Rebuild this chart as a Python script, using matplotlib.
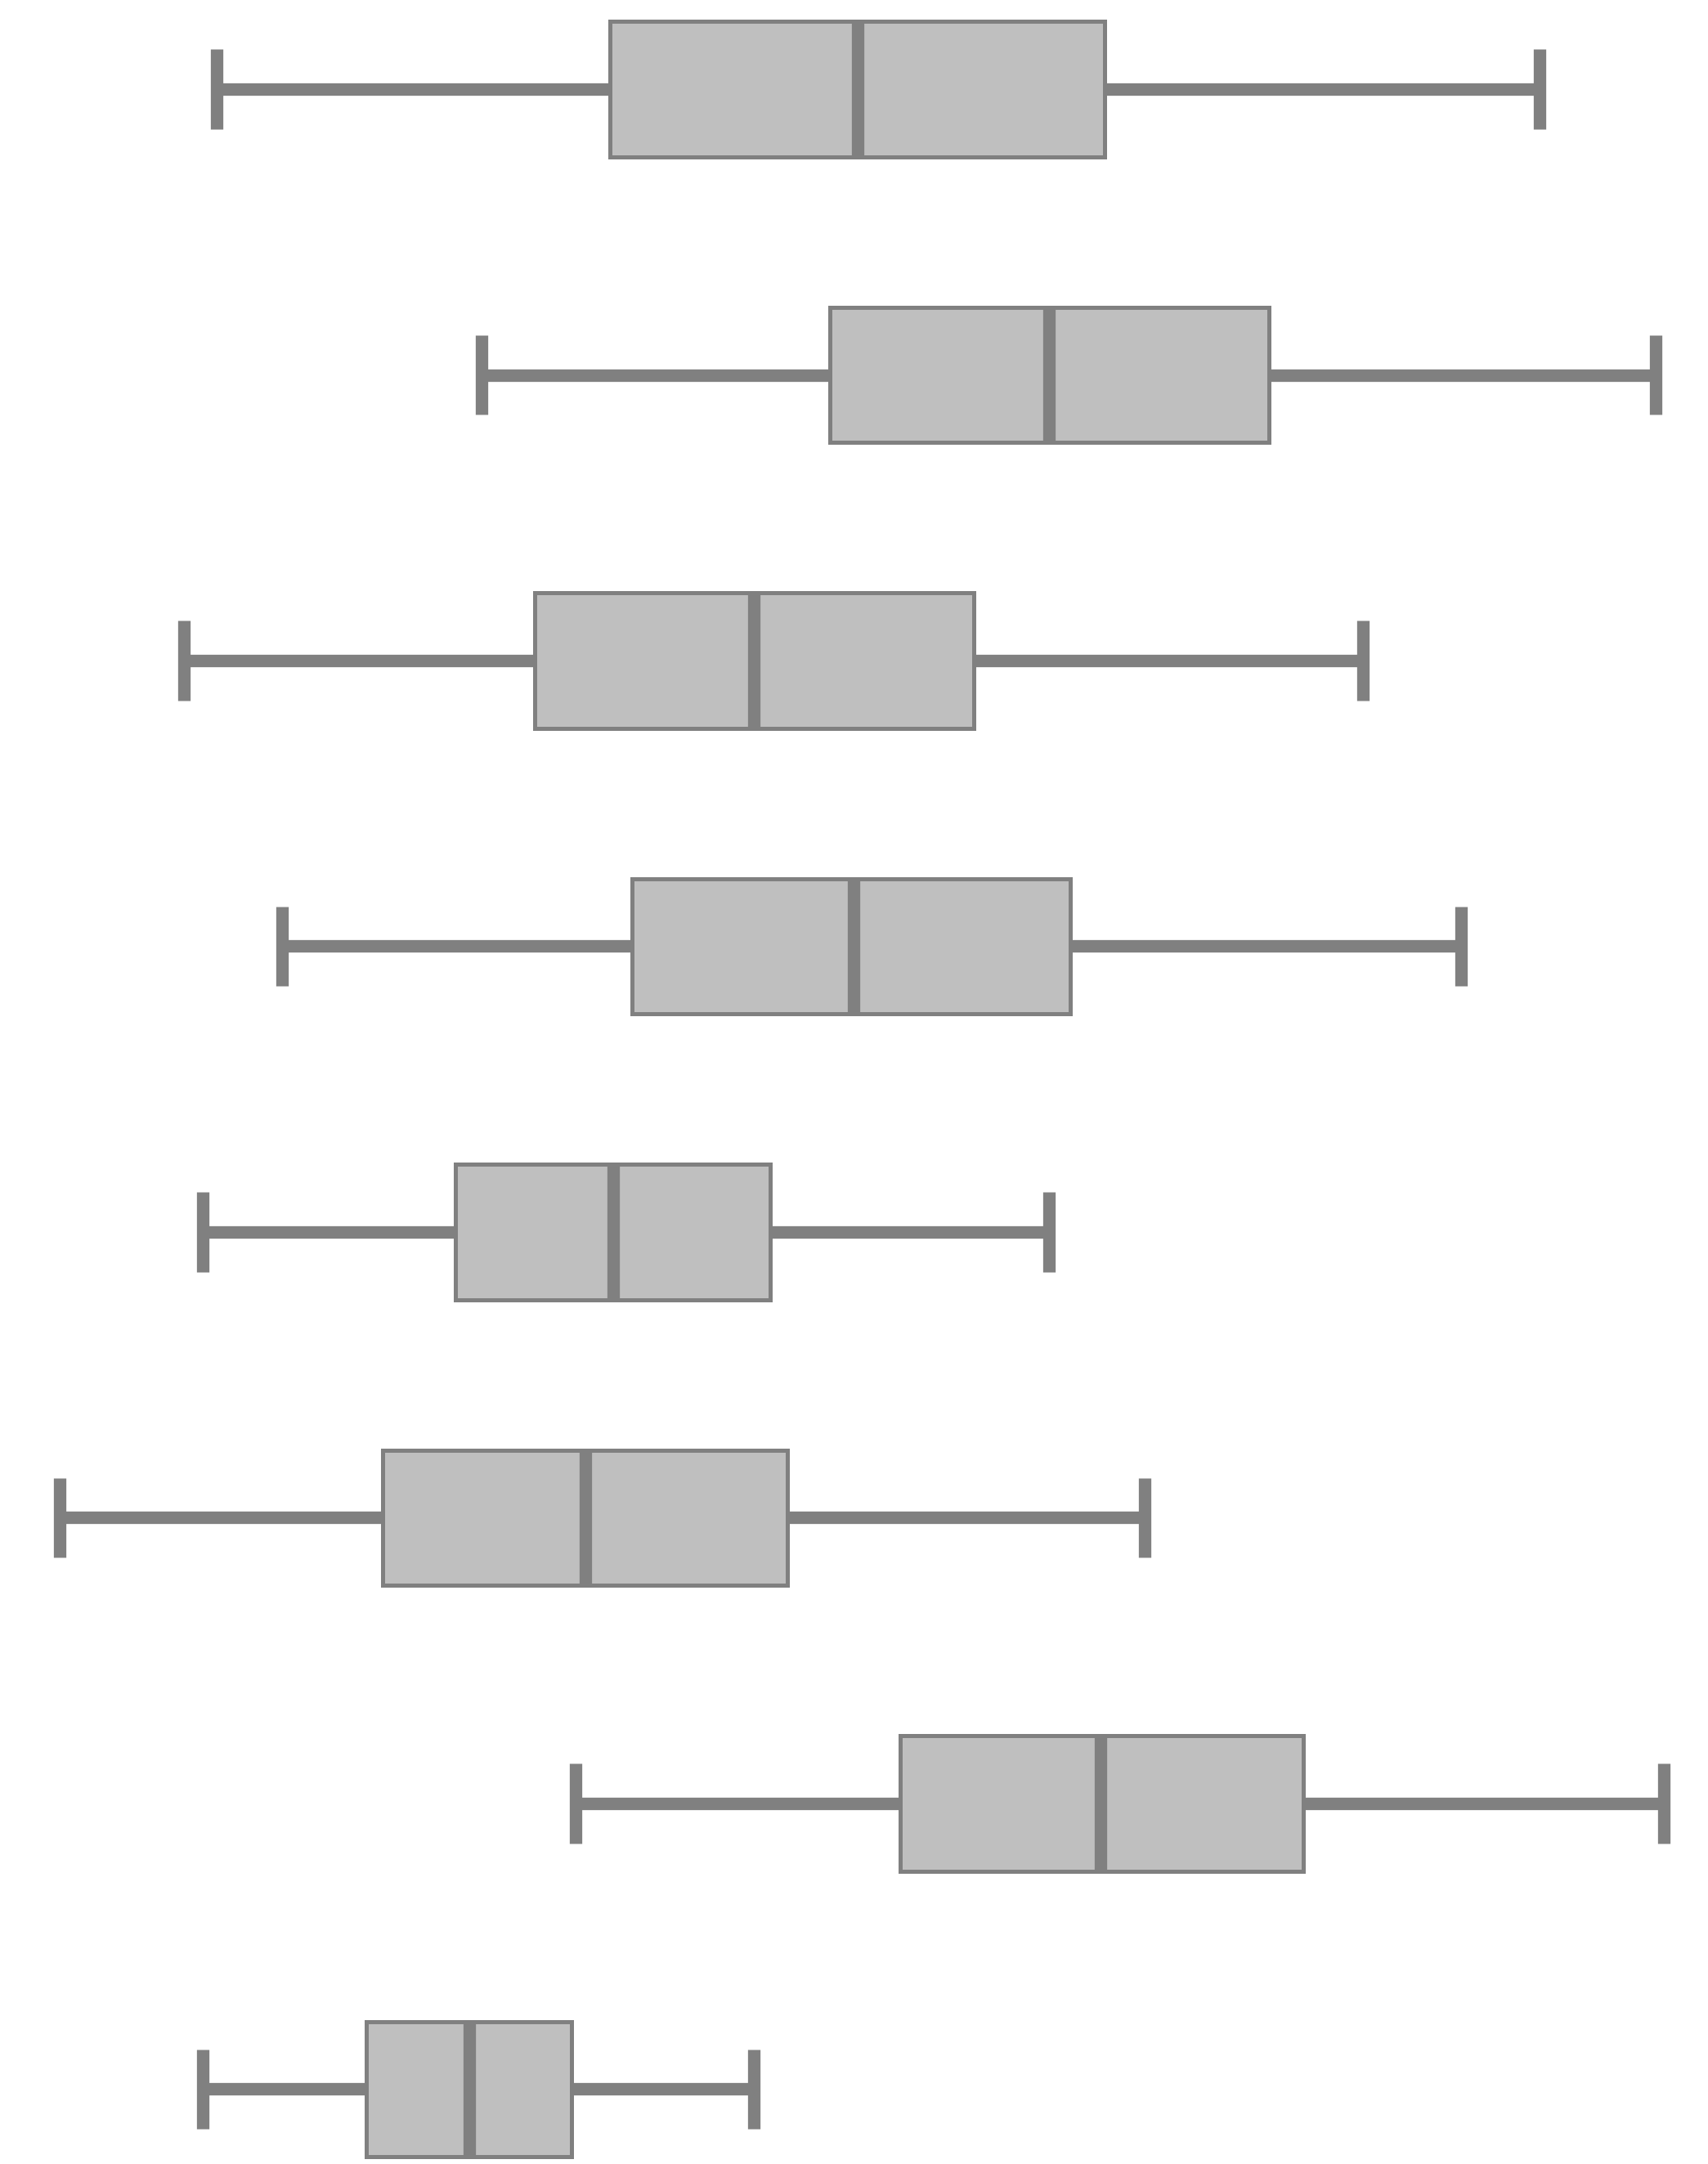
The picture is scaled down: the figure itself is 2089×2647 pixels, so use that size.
import matplotlib
matplotlib.use("Agg")
import matplotlib.pyplot as plt

# values (horizontal axis units)
whislo = [157, 349, 133, 204, 147, 43, 417, 147]
q1     = [442, 601, 387, 458, 330, 277, 652, 265]
med    = [621, 760, 546, 618, 444, 424, 797, 340]
q3     = [800, 919, 705, 775, 558, 570, 944, 414]
whishi = [1115, 1199, 987, 1058, 760, 829, 1205, 546]

stats = [dict(whislo=a, q1=b, med=c, q3=d, whishi=e, fliers=[])
         for a, b, c, d, e in zip(whislo, q1, med, q3, whishi)]

fig = plt.figure(figsize=(20.89, 26.47), dpi=100)
ax = fig.add_axes([0, 0, 1, 1])
grey = "#808080"
pos = list(range(1, len(stats) + 1))
ax.bxp(stats, positions=pos, orientation="horizontal", widths=0.473,
       capwidths=0.28, patch_artist=True, showfliers=False,
       boxprops=dict(facecolor="#bfbfbf", edgecolor=grey, linewidth=3.6),
       medianprops=dict(color=grey, linewidth=11, solid_capstyle="butt"),
       whiskerprops=dict(color=grey, linewidth=11, solid_capstyle="butt"),
       capprops=dict(color=grey, linewidth=11, solid_capstyle="butt"))
ax.set_xlim(0, 1237)
ax.set_ylim(8.262, 0.688)
ax.axis("off")
fig.savefig("out.png", dpi=100, facecolor="white")
